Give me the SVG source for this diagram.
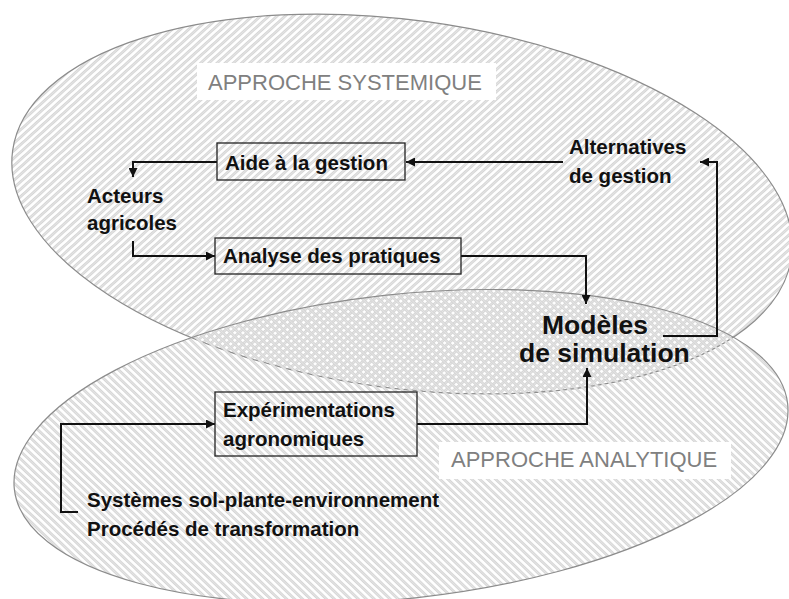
<svg xmlns="http://www.w3.org/2000/svg" width="789" height="599" viewBox="0 0 789 599">
<style>
.lbl{font-family:"Liberation Sans",Arial,sans-serif;font-weight:bold;font-size:20.5px;fill:#111}
.big{font-family:"Liberation Sans",Arial,sans-serif;font-weight:bold;font-size:26.5px;fill:#111}
.app{font-family:"Liberation Sans",Arial,sans-serif;font-size:22px;fill:#808080}
.box{fill:none;stroke:#222;stroke-width:1.3}
.ell{stroke:#8c8c8c;stroke-width:1.2}
.con{fill:none;stroke:#111;stroke-width:2}
</style>
<defs>
<pattern id="hu" width="5.5" height="5.5" patternUnits="userSpaceOnUse" patternTransform="rotate(40)">
<rect width="2.8" height="5.5" fill="#d6d6d6"/>
<rect x="1.1" width="0.6" height="5.5" fill="#ececec"/>
</pattern>
<pattern id="hl" width="5.5" height="5.5" patternUnits="userSpaceOnUse" patternTransform="rotate(-40)">
<rect width="2.8" height="5.5" fill="#d6d6d6"/>
<rect x="1.1" width="0.6" height="5.5" fill="#ececec"/>
</pattern>
<marker id="ah" viewBox="0 0 10 10" refX="10" refY="5" markerWidth="4.5" markerHeight="4.5" orient="auto" markerUnits="strokeWidth">
<path d="M0,0 L10,5 L0,10 z" fill="#111"/>
</marker>
</defs>
<rect width="789" height="599" fill="#fff"/>
<g id="ellipse-systemique">
<ellipse class="ell" cx="402" cy="204" rx="393" ry="184" transform="rotate(7.8 402 204)" fill="url(#hu)"/>
</g>
<g id="ellipse-analytique">
<ellipse class="ell" cx="401" cy="446.5" rx="389" ry="152" transform="rotate(-6.3 401 446.5)" fill="url(#hl)"/>
</g>
<g id="label-systemique">
<rect x="197" y="63" width="299" height="37" fill="#fff"/>
<text class="app" x="208" y="90">APPROCHE SYSTEMIQUE</text>
</g>
<g id="label-analytique">
<rect x="439" y="442" width="292" height="37" fill="#fff"/>
<text class="app" x="451" y="467">APPROCHE ANALYTIQUE</text>
</g>
<g id="connectors">
<path class="con" d="M217,162 H133 V177" marker-end="url(#ah)"/>
<path class="con" d="M563,162 H406" marker-end="url(#ah)"/>
<path class="con" d="M663,336 H717 V162 H700" marker-end="url(#ah)"/>
<path class="con" d="M133,241 V256 H215" marker-end="url(#ah)"/>
<path class="con" d="M461,256 H586 V304" marker-end="url(#ah)"/>
<path class="con" d="M417,424 H587 V368" marker-end="url(#ah)"/>
<path class="con" d="M78,512 H61 V424 H215" marker-end="url(#ah)"/>
</g>
<g id="aide">
<rect class="box" x="217" y="143" width="188" height="37"/>
<text class="lbl" x="225" y="170">Aide à la gestion</text>
</g>
<g id="alternatives">
<text class="lbl" x="569" y="154">Alternatives</text>
<text class="lbl" x="569" y="183">de gestion</text>
</g>
<g id="acteurs">
<text class="lbl" x="87" y="203">Acteurs</text>
<text class="lbl" x="87" y="230">agricoles</text>
</g>
<g id="analyse">
<rect class="box" x="215" y="238" width="246" height="36"/>
<text class="lbl" x="223" y="263">Analyse des pratiques</text>
</g>
<g id="modeles">
<text class="big" x="542" y="334">Modèles</text>
<text class="big" x="519" y="362">de simulation</text>
</g>
<g id="experimentations">
<rect class="box" x="215" y="392" width="202" height="64"/>
<text class="lbl" x="223" y="417">Expérimentations</text>
<text class="lbl" x="223" y="446">agronomiques</text>
</g>
<g id="systemes">
<text class="lbl" x="87" y="507">Systèmes sol-plante-environnement</text>
<text class="lbl" x="87" y="536">Procédés de transformation</text>
</g>
</svg>
